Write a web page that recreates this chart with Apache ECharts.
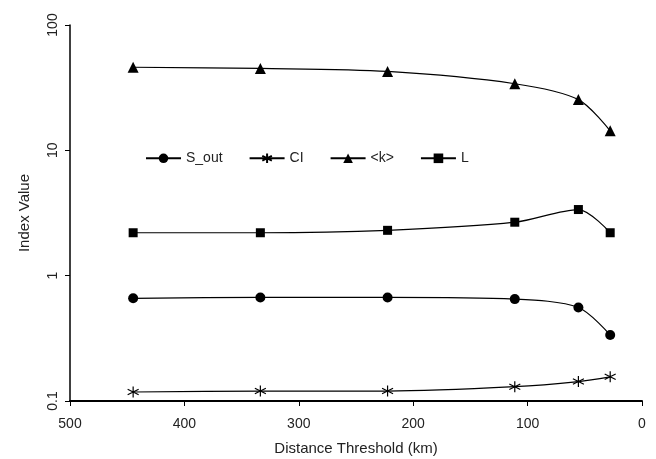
<!DOCTYPE html>
<html>
<head>
<meta charset="utf-8">
<script src="https://cdn.jsdelivr.net/npm/echarts@6/dist/echarts.min.js"></script>
<style>
  html, body { margin: 0; padding: 0; background: #fff; }
  #main { width: 656px; height: 459px; }
</style>
</head>
<body>
<div id="main"></div>
<script>
var distances = [444.8, 333.6, 222.4, 111.2, 55.6, 27.8];
var sOut = [0.66, 0.67, 0.67, 0.65, 0.557, 0.336];
var ci = [0.118, 0.12, 0.12, 0.13, 0.143, 0.156];
var kAvg = [46, 45, 42.6, 34, 25.4, 14.3];
var pathLen = [2.2, 2.2, 2.3, 2.67, 3.37, 2.2];

var font = 'Liberation Sans, Arial, sans-serif';
var starPath = 'path://M5 0 L5 10 M0.7 2.5 L9.3 7.5 M0.7 7.5 L9.3 2.5';

function pairs(ys) {
    return distances.map(function (x, i) { return [x, ys[i]]; });
}

function lineSeries(name, ys, symbol, size, extra) {
    var s = {
        name: name,
        type: 'line',
        data: pairs(ys),
        smooth: 0.3,
        symbol: symbol,
        symbolSize: size,
        lineStyle: { color: '#000', width: 1.2 },
        itemStyle: { color: '#000' }
    };
    if (extra) s.itemStyle = extra;
    return s;
}

var options = {
    animation: false,
    textStyle: { fontFamily: font },
    grid: { left: 70, right: 14, top: 25, bottom: 58, outerBoundsMode: 'none' },
    legend: {
        left: 140,
        top: 146,
        itemWidth: 35,
        itemHeight: 12,
        itemGap: 26,
        textStyle: { fontSize: 14, color: '#222', fontFamily: font },
        data: ['S_out', 'CI', '<k>', 'L']
    },
    xAxis: {
        type: 'value',
        inverse: true,
        min: 0,
        max: 500,
        interval: 100,
        name: 'Distance Threshold (km)',
        nameLocation: 'middle',
        nameGap: 40,
        nameTextStyle: { fontSize: 15, color: '#222' },
        splitLine: { show: false },
        axisLine: { onZero: false, lineStyle: { color: '#000', width: 2 } },
        axisTick: { lineStyle: { color: '#000' }, length: 5 },
        axisLabel: { fontSize: 14, color: '#222', margin: 16 }
    },
    yAxis: {
        type: 'log',
        logBase: 10,
        min: 0.1,
        max: 100,
        position: 'left',
        name: 'Index Value',
        nameLocation: 'middle',
        nameGap: 38,
        nameTextStyle: { fontSize: 15, color: '#222' },
        splitLine: { show: false },
        axisLine: { show: true, onZero: false, lineStyle: { color: '#000', width: 1.5 } },
        axisTick: { show: true, inside: false, lineStyle: { color: '#000' }, length: 5 },
        axisLabel: {
            fontSize: 14,
            color: '#222',
            rotate: 90,
            margin: 10,
            formatter: function (v) { return v < 1 ? v.toFixed(1) : String(Math.round(v)); }
        }
    },
    series: [
        lineSeries('S_out', sOut, 'circle', 10),
        lineSeries('CI', ci, starPath, 11, { color: 'none', borderColor: '#000', borderWidth: 1.2 }),
        lineSeries('<k>', kAvg, 'triangle', 11),
        lineSeries('L', pathLen, 'rect', 9)
    ]
};

var chart = echarts.init(document.getElementById('main'));
chart.setOption(options);
</script>
</body>
</html>
